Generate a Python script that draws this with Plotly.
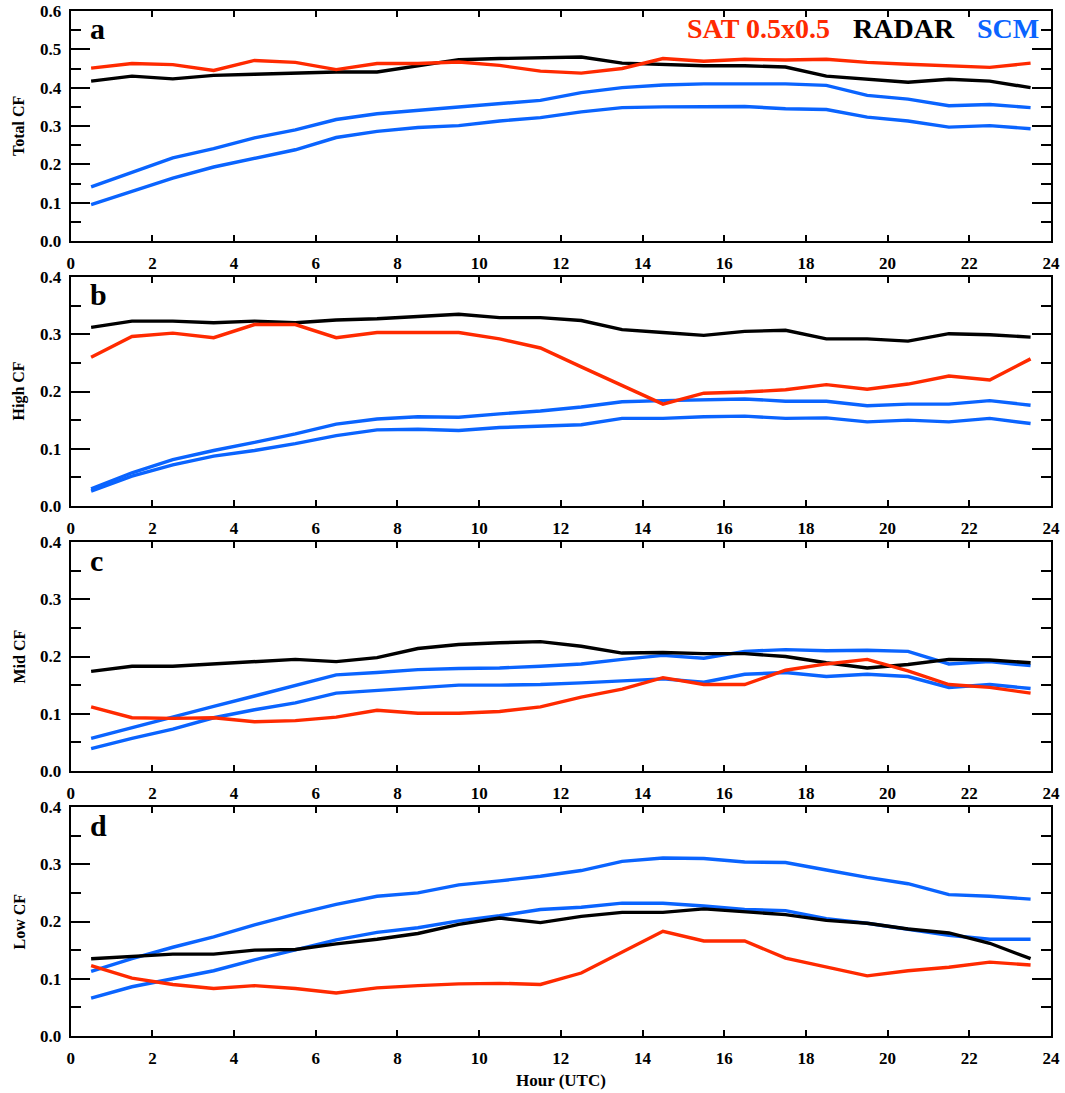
import plotly.graph_objects as go

hours = [h + 0.5 for h in range(24)]

# Panel a: Total CF
total_sat = [0.451, 0.463, 0.460, 0.445, 0.471, 0.466, 0.447, 0.463, 0.463, 0.467, 0.458, 0.443,
             0.438, 0.450, 0.476, 0.469, 0.474, 0.472, 0.474, 0.466, 0.461, 0.458, 0.453, 0.464]
total_radar = [0.417, 0.430, 0.423, 0.432, 0.435, 0.439, 0.441, 0.441, 0.458, 0.473, 0.476, 0.477,
               0.480, 0.464, 0.461, 0.457, 0.457, 0.454, 0.430, 0.423, 0.414, 0.422, 0.417, 0.400]
total_scm1 = [0.141, 0.180, 0.217, 0.241, 0.269, 0.290, 0.317, 0.332, 0.341, 0.350, 0.358, 0.367,
              0.387, 0.400, 0.407, 0.410, 0.410, 0.410, 0.406, 0.380, 0.370, 0.353, 0.356, 0.348]
total_scm2 = [0.095, 0.130, 0.164, 0.193, 0.215, 0.238, 0.270, 0.286, 0.296, 0.301, 0.313, 0.322,
              0.337, 0.348, 0.350, 0.350, 0.351, 0.345, 0.343, 0.323, 0.313, 0.297, 0.301, 0.293]

# Panel b: High CF
high_sat = [0.260, 0.296, 0.302, 0.294, 0.317, 0.317, 0.294, 0.303, 0.303, 0.303, 0.292, 0.276,
            0.243, 0.210, 0.178, 0.197, 0.199, 0.203, 0.212, 0.204, 0.213, 0.227, 0.220, 0.257]
high_radar = [0.312, 0.323, 0.323, 0.320, 0.323, 0.320, 0.325, 0.327, 0.331, 0.335, 0.329, 0.329,
              0.324, 0.308, 0.303, 0.298, 0.305, 0.307, 0.292, 0.292, 0.288, 0.301, 0.299, 0.295]
high_scm1 = [0.030, 0.058, 0.081, 0.097, 0.111, 0.126, 0.143, 0.152, 0.156, 0.155, 0.161, 0.166,
             0.173, 0.182, 0.184, 0.186, 0.187, 0.183, 0.183, 0.175, 0.178, 0.178, 0.184, 0.176]
high_scm2 = [0.026, 0.052, 0.072, 0.087, 0.097, 0.109, 0.123, 0.133, 0.134, 0.132, 0.137, 0.140,
             0.142, 0.153, 0.153, 0.156, 0.157, 0.153, 0.154, 0.147, 0.150, 0.147, 0.153, 0.144]

# Panel c: Mid CF
mid_sat = [0.112, 0.093, 0.092, 0.093, 0.086, 0.088, 0.094, 0.106, 0.101, 0.101, 0.104, 0.112,
           0.129, 0.143, 0.163, 0.151, 0.151, 0.176, 0.187, 0.195, 0.175, 0.151, 0.146, 0.136]
mid_radar = [0.174, 0.183, 0.183, 0.187, 0.190, 0.195, 0.191, 0.198, 0.214, 0.221, 0.224, 0.226,
             0.218, 0.206, 0.207, 0.205, 0.205, 0.200, 0.189, 0.180, 0.186, 0.195, 0.194, 0.189]
mid_scm1 = [0.057, 0.076, 0.094, 0.113, 0.131, 0.149, 0.168, 0.172, 0.177, 0.179, 0.180, 0.183,
            0.187, 0.195, 0.202, 0.197, 0.209, 0.212, 0.210, 0.211, 0.209, 0.187, 0.191, 0.184]
mid_scm2 = [0.039, 0.057, 0.073, 0.093, 0.107, 0.119, 0.136, 0.141, 0.146, 0.150, 0.150, 0.151,
            0.154, 0.157, 0.161, 0.155, 0.169, 0.172, 0.165, 0.169, 0.165, 0.146, 0.151, 0.144]

# Panel d: Low CF
low_sat = [0.123, 0.101, 0.090, 0.083, 0.088, 0.083, 0.075, 0.084, 0.088, 0.091, 0.092, 0.090,
           0.110, 0.147, 0.183, 0.166, 0.166, 0.136, 0.120, 0.105, 0.114, 0.120, 0.129, 0.124]
low_radar = [0.135, 0.139, 0.143, 0.143, 0.150, 0.151, 0.161, 0.169, 0.179, 0.195, 0.206, 0.198,
             0.209, 0.216, 0.216, 0.222, 0.217, 0.212, 0.202, 0.197, 0.187, 0.180, 0.162, 0.135]
low_scm1 = [0.113, 0.135, 0.155, 0.173, 0.194, 0.213, 0.230, 0.244, 0.250, 0.264, 0.271, 0.279,
            0.289, 0.305, 0.311, 0.310, 0.304, 0.303, 0.290, 0.277, 0.266, 0.247, 0.244, 0.239]
low_scm2 = [0.066, 0.086, 0.100, 0.114, 0.133, 0.151, 0.168, 0.181, 0.189, 0.201, 0.210, 0.221,
            0.225, 0.232, 0.232, 0.227, 0.221, 0.219, 0.205, 0.197, 0.186, 0.176, 0.169, 0.169]

panel_titles = ["Total CF", "High CF", "Mid CF", "Low CF"]
panel_letters = ["a", "b", "c", "d"]
y_max = [0.6, 0.4, 0.4, 0.4]
legend_labels = ["SAT 0.5x0.5", "RADAR", "SCM"]
x_label = "Hour (UTC)"

RED = "#ff2a00"
BLACK = "#000000"
BLUE = "#0a64ff"
FONT = "Liberation Serif"

panels = [
    (total_sat, total_radar, total_scm1, total_scm2),
    (high_sat, high_radar, high_scm1, high_scm2),
    (mid_sat, mid_radar, mid_scm1, mid_scm2),
    (low_sat, low_radar, low_scm1, low_scm2),
]

W, H = 1065, 1093
x_left, x_right = 70.7, 1051.0
tops = [11, 277, 542, 807]
bottoms = [241, 506, 771, 1036]

fig = go.Figure()
layout = dict(
    width=W, height=H,
    margin=dict(l=0, r=0, t=0, b=0, autoexpand=False),
    paper_bgcolor="white", plot_bgcolor="white",
    showlegend=False,
    font=dict(family=FONT, color="black", size=16, weight="bold"),
)
annotations = []

for i, (sat, radar, scm1, scm2) in enumerate(panels):
    n = i + 1
    xa = "x" if n == 1 else f"x{n}"
    ya = "y" if n == 1 else f"y{n}"
    for ser, col in ((scm1, BLUE), (scm2, BLUE), (radar, BLACK), (sat, RED)):
        fig.add_trace(go.Scatter(x=hours, y=ser, mode="lines", xaxis=xa, yaxis=ya,
                                 line=dict(color=col, width=3.4), hoverinfo="skip"))
    ydom = [1 - bottoms[i] / H, 1 - tops[i] / H]
    layout[f"xaxis{'' if n == 1 else n}"] = dict(
        domain=[x_left / W, x_right / W], range=[0, 24], dtick=2, tick0=0,
        anchor=ya, showline=True, linecolor="black", linewidth=2, mirror="allticks",
        ticks="inside", ticklen=6, tickwidth=2, tickcolor="black",
        showgrid=False, zeroline=False, automargin=False, ticklabelstandoff=6,
        tickfont=dict(family=FONT, size=17, color="black", weight="bold"),
    )
    layout[f"yaxis{'' if n == 1 else n}"] = dict(
        domain=ydom, range=[0, y_max[i]], dtick=0.1, tick0=0, tickformat=".1f",
        anchor=xa, showline=True, linecolor="black", linewidth=2, mirror="allticks",
        ticks="inside", ticklen=19, tickwidth=2, tickcolor="black",
        minor=dict(dtick=0.05, ticks="inside", ticklen=10, tickwidth=2, tickcolor="black", showgrid=False),
        showgrid=False, zeroline=False, automargin=False, ticklabelstandoff=4,
        tickfont=dict(family=FONT, size=17, color="black", weight="bold"),
    )
    # panel letter
    annotations.append(dict(
        text=panel_letters[i], xref="paper", yref="paper",
        x=88 / W, y=1 - (tops[i] + 18) / H, xanchor="left", yanchor="middle",
        showarrow=False, font=dict(family=FONT, size=30, color="black", weight="bold")))
    # y axis title
    annotations.append(dict(
        text=panel_titles[i], xref="paper", yref="paper",
        x=19 / W, y=1 - (tops[i] + bottoms[i]) / 2 / H, xanchor="center", yanchor="middle",
        textangle=-90, showarrow=False,
        font=dict(family=FONT, size=16, color="black", weight="bold")))

# legend text
for txt, col, xpos in zip(legend_labels, (RED, BLACK, BLUE), (685, 851, 975)):
    annotations.append(dict(
        text=txt, xref="paper", yref="paper", x=xpos / W, y=1 - 29 / H,
        xanchor="left", yanchor="middle", showarrow=False,
        font=dict(family=FONT, size=28, color=col, weight="bold")))

annotations.append(dict(
    text=x_label, xref="paper", yref="paper", x=(x_left + x_right) / 2 / W, y=1 - 1080 / H,
    xanchor="center", yanchor="middle", showarrow=False,
    font=dict(family=FONT, size=17, color="black", weight="bold")))

layout["annotations"] = annotations
fig.update_layout(**layout)
fig.write_html(
    "out.html",
    config={"displayModeBar": False, "staticPlot": True},
    post_script="document.body.style.margin='0';document.body.style.padding='0';"
                "document.body.style.overflow='hidden';",
)
